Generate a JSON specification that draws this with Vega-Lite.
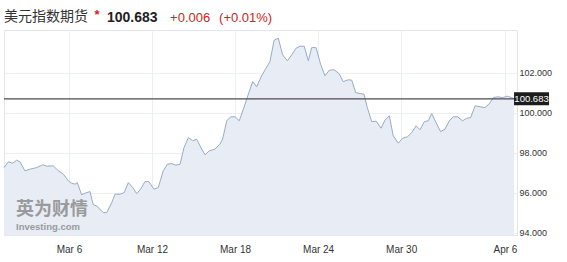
{
  "$schema": "https://vega.github.io/schema/vega-lite/v6.json",
  "width": 513,
  "height": 205,
  "autosize": {"type": "none"},
  "padding": {"left": 4, "top": 30, "right": 50, "bottom": 27},
  "background": "white",
  "config": {"view": {"stroke": "#e2e5ea", "strokeWidth": 1}, "font": "Liberation Sans"},
  "layer": [
    {"data": {"values": [
      {"t": 0.87, "v": 97.25}, {"t": 1.08, "v": 97.54}, {"t": 1.29, "v": 97.47}, {"t": 1.48, "v": 97.62},
      {"t": 1.64, "v": 97.54}, {"t": 1.88, "v": 97.09}, {"t": 2.12, "v": 97.17}, {"t": 2.44, "v": 97.25},
      {"t": 2.73, "v": 97.39}, {"t": 2.93, "v": 97.32}, {"t": 3.24, "v": 97.34}, {"t": 3.49, "v": 97.09},
      {"t": 3.73, "v": 96.92}, {"t": 3.97, "v": 96.59}, {"t": 4.13, "v": 96.47}, {"t": 4.29, "v": 96.42},
      {"t": 4.40, "v": 96.5}, {"t": 4.61, "v": 95.89}, {"t": 4.77, "v": 95.97}, {"t": 5.01, "v": 96.05},
      {"t": 5.17, "v": 95.39}, {"t": 5.33, "v": 95.34}, {"t": 5.49, "v": 95.17}, {"t": 5.65, "v": 95.0},
      {"t": 5.82, "v": 95.0}, {"t": 6.06, "v": 95.5}, {"t": 6.22, "v": 95.92}, {"t": 6.46, "v": 95.92},
      {"t": 6.66, "v": 96.0}, {"t": 6.86, "v": 96.5}, {"t": 7.07, "v": 96.25}, {"t": 7.26, "v": 95.95},
      {"t": 7.45, "v": 96.17}, {"t": 7.66, "v": 96.55}, {"t": 7.85, "v": 96.55}, {"t": 8.09, "v": 96.17},
      {"t": 8.30, "v": 96.25}, {"t": 8.54, "v": 97.09}, {"t": 8.74, "v": 97.42}, {"t": 8.95, "v": 97.45},
      {"t": 9.15, "v": 97.37}, {"t": 9.35, "v": 97.42}, {"t": 9.54, "v": 98.25}, {"t": 9.75, "v": 98.75},
      {"t": 9.96, "v": 98.59}, {"t": 10.15, "v": 98.67}, {"t": 10.31, "v": 98.34}, {"t": 10.55, "v": 97.89},
      {"t": 10.76, "v": 98.09}, {"t": 11.03, "v": 98.17}, {"t": 11.27, "v": 98.42}, {"t": 11.40, "v": 98.67},
      {"t": 11.60, "v": 99.59}, {"t": 11.79, "v": 99.79}, {"t": 12.00, "v": 99.79}, {"t": 12.20, "v": 99.59},
      {"t": 12.40, "v": 100.17}, {"t": 12.64, "v": 100.92}, {"t": 12.85, "v": 101.55}, {"t": 13.04, "v": 101.29},
      {"t": 13.28, "v": 101.84}, {"t": 13.49, "v": 102.22}, {"t": 13.68, "v": 102.55}, {"t": 13.88, "v": 103.62},
      {"t": 14.08, "v": 103.72}, {"t": 14.29, "v": 102.89}, {"t": 14.52, "v": 102.59}, {"t": 14.73, "v": 102.89},
      {"t": 14.94, "v": 103.22}, {"t": 15.13, "v": 103.32}, {"t": 15.33, "v": 103.32}, {"t": 15.53, "v": 102.59},
      {"t": 15.69, "v": 103.25}, {"t": 15.90, "v": 103.25}, {"t": 16.12, "v": 102.42}, {"t": 16.33, "v": 101.84},
      {"t": 16.54, "v": 102.12}, {"t": 16.77, "v": 102.14}, {"t": 17.01, "v": 101.95}, {"t": 17.21, "v": 101.55},
      {"t": 17.45, "v": 101.64}, {"t": 17.62, "v": 101.62}, {"t": 17.81, "v": 101.0}, {"t": 18.02, "v": 100.95},
      {"t": 18.21, "v": 100.92}, {"t": 18.37, "v": 100.25}, {"t": 18.58, "v": 99.55}, {"t": 18.80, "v": 99.57},
      {"t": 19.03, "v": 99.22}, {"t": 19.22, "v": 99.62}, {"t": 19.43, "v": 99.84}, {"t": 19.62, "v": 98.84},
      {"t": 19.86, "v": 98.47}, {"t": 20.07, "v": 98.72}, {"t": 20.30, "v": 98.79}, {"t": 20.51, "v": 99.0},
      {"t": 20.72, "v": 99.34}, {"t": 20.91, "v": 99.14}, {"t": 21.12, "v": 99.55}, {"t": 21.31, "v": 99.59},
      {"t": 21.47, "v": 99.95}, {"t": 21.68, "v": 99.5}, {"t": 21.90, "v": 99.05}, {"t": 22.11, "v": 99.17},
      {"t": 22.32, "v": 99.59}, {"t": 22.51, "v": 99.79}, {"t": 22.72, "v": 99.79}, {"t": 22.96, "v": 99.59},
      {"t": 23.16, "v": 99.72}, {"t": 23.35, "v": 99.75}, {"t": 23.56, "v": 100.34}, {"t": 23.80, "v": 100.29},
      {"t": 24.04, "v": 100.25}, {"t": 24.25, "v": 100.45}, {"t": 24.44, "v": 100.75}, {"t": 24.65, "v": 100.79},
      {"t": 24.89, "v": 100.75}, {"t": 25.11, "v": 100.82}, {"t": 25.33, "v": 100.75}, {"t": 25.44, "v": 100.70}
    ]},
    "mark": {"type": "area", "color": "#e8edf5", "opacity": 1,
      "line": {"color": "#98acc5", "strokeWidth": 1}},
    "encoding": {
      "x": {"field": "t", "type": "quantitative",
        "scale": {"domain": [0.87, 25.58], "nice": false, "zero": false},
        "axis": {"values": [4, 8, 12, 16, 20, 25],
          "labelExpr": "datum.value==4?'Mar 6':datum.value==8?'Mar 12':datum.value==12?'Mar 18':datum.value==16?'Mar 24':datum.value==20?'Mar 30':'Apr 6'",
          "title": null, "ticks": false, "domain": false, "grid": true, "gridColor": "#eceff3",
          "labelFontSize": 10, "labelColor": "#333333", "labelPadding": 9, "labelFont": "Liberation Sans"}},
      "y": {"field": "v", "type": "quantitative",
        "scale": {"domain": [93.88, 104.13], "nice": false, "zero": false},
        "axis": {"orient": "right", "values": [94, 96, 98, 100, 102], "format": ".3f", "title": null,
          "ticks": false, "domain": false, "grid": true, "gridColor": "#eceff3",
          "labelFontSize": 9, "labelColor": "#333333", "labelPadding": 2, "labelAlign": "left",
          "labelFont": "Liberation Sans"}},
      "y2": {"datum": 93.88}
    }},
    {"data": {"values": [{}]},
      "mark": {"type": "text", "align": "left", "baseline": "middle", "font": "Noto Sans CJK SC",
      "fontSize": 18, "fontWeight": "bold", "color": "#8c8c8c", "opacity": 0.85},
      "encoding": {"x": {"datum": 1.45}, "y": {"datum": 95.12}, "text": {"value": "英为财情"}}},
    {"data": {"values": [{}]},
      "mark": {"type": "text", "align": "left", "baseline": "middle", "font": "Liberation Sans",
      "fontSize": 9.5, "fontWeight": "bold", "color": "#8c8c8c", "opacity": 0.85},
      "encoding": {"x": {"datum": 1.45}, "y": {"datum": 94.27}, "text": {"value": "Investing.com"}}},
    {"data": {"values": [{}]},
      "mark": {"type": "rule", "color": "#4d4d4d", "strokeWidth": 1.3},
      "encoding": {"y": {"datum": 100.683}}},
    {"data": {"values": [{}]},
      "mark": {"type": "rect", "width": 35, "height": 13, "color": "#1c1c1c"},
      "encoding": {"x": {"datum": 26.28}, "y": {"datum": 100.69}}},
    {"data": {"values": [{}]},
      "mark": {"type": "text", "align": "center", "baseline": "middle", "fontSize": 9.5,
      "color": "white", "font": "Liberation Sans"},
      "encoding": {"x": {"datum": 26.28}, "y": {"datum": 100.69}, "text": {"value": "100.683"}}},
    {"data": {"values": [{}]},
      "mark": {"type": "text", "align": "left", "baseline": "middle", "font": "Noto Sans CJK SC",
      "fontSize": 14, "color": "#333333"},
      "encoding": {"x": {"datum": 0.87}, "y": {"datum": 104.78}, "text": {"value": "美元指数期货"}}},
    {"data": {"values": [{}]},
      "mark": {"type": "text", "align": "center", "baseline": "middle", "font": "Liberation Sans",
      "fontSize": 13, "fontWeight": "bold", "color": "#d9231d"},
      "encoding": {"x": {"datum": 5.35}, "y": {"datum": 104.9}, "text": {"value": "*"}}},
    {"data": {"values": [{}]},
      "mark": {"type": "text", "align": "left", "baseline": "middle", "font": "Liberation Sans",
      "fontSize": 14, "fontWeight": "bold", "color": "#222222"},
      "encoding": {"x": {"datum": 5.83}, "y": {"datum": 104.73}, "text": {"value": "100.683"}}},
    {"data": {"values": [{}]},
      "mark": {"type": "text", "align": "left", "baseline": "middle", "font": "Liberation Sans",
      "fontSize": 13, "color": "#d0231b"},
      "encoding": {"x": {"datum": 8.87}, "y": {"datum": 104.73}, "text": {"value": "+0.006"}}},
    {"data": {"values": [{}]},
      "mark": {"type": "text", "align": "left", "baseline": "middle", "font": "Liberation Sans",
      "fontSize": 13, "color": "#d0231b"},
      "encoding": {"x": {"datum": 11.23}, "y": {"datum": 104.73}, "text": {"value": "(+0.01%)"}}}
  ]
}
